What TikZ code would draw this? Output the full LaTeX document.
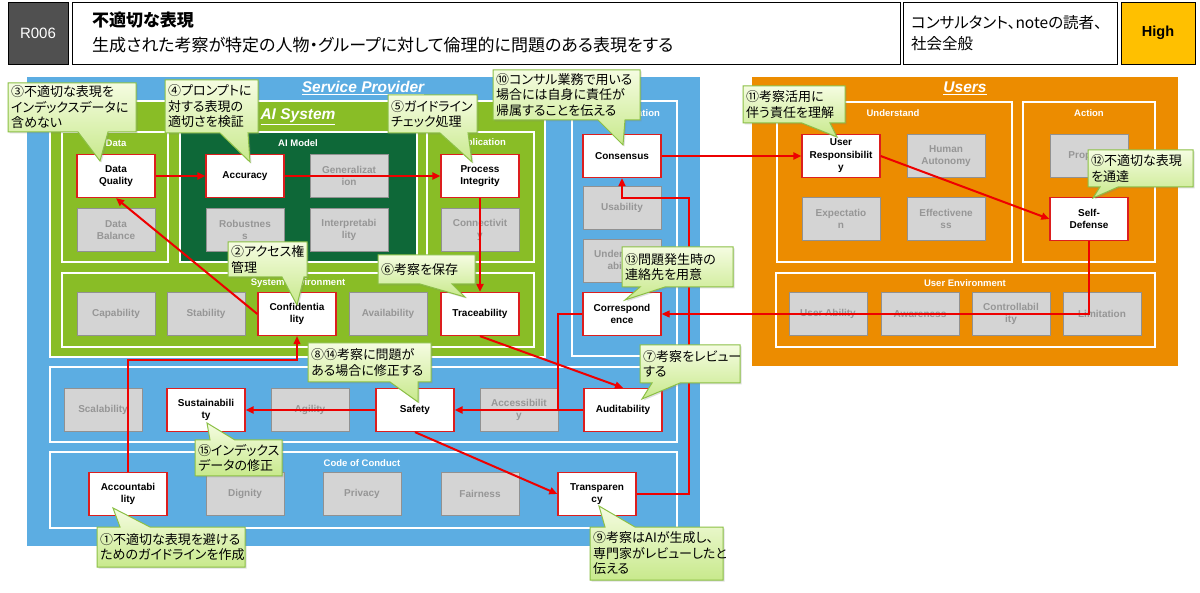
\documentclass[tikz,border=0pt]{standalone}
\usepackage{fontspec}
\setmainfont{Liberation Sans}
\newfontfamily\jp[RawFeature=+palt]{Noto Sans CJK JP}
\usetikzlibrary{arrows.meta,shadows}
\definecolor{spblue}{RGB}{92,173,226}
\definecolor{aigreen}{RGB}{137,189,38}
\definecolor{dkgreen}{RGB}{14,104,56}
\definecolor{usorange}{RGB}{236,140,0}
\definecolor{grayfill}{RGB}{212,212,212}
\definecolor{graydraw}{RGB}{145,145,145}
\definecolor{graytext}{RGB}{150,150,150}
\definecolor{nodered}{RGB}{220,30,30}
\definecolor{arrowred}{RGB}{238,0,0}
\definecolor{cotopc}{RGB}{245,252,225}
\definecolor{cobotc}{RGB}{200,233,140}
\definecolor{coline}{RGB}{140,192,70}
\definecolor{hdrgray}{RGB}{80,80,80}
\definecolor{highyellow}{RGB}{255,192,0}
\tikzset{
 basebox/.style={rectangle, minimum width=78pt, minimum height=43pt, align=center, inner sep=1pt, font=\bfseries\fontsize{10}{12.5}\selectfont},
 selbox/.style={basebox, fill=white, draw=nodered, line width=1.3pt, text=black},
 grbox/.style={basebox, fill=grayfill, draw=graydraw, line width=1pt, text=graytext},
 frm/.style={draw=white, line width=2.5pt},
 lbl/.style={text=white, font=\bfseries\fontsize{9.5}{11}\selectfont},
 bigttl/.style={text=white, font=\bfseries\itshape\fontsize{15.5}{18}\selectfont},
 ra/.style={draw=arrowred, line width=2pt, -{Triangle[length=8pt,width=7pt]}},
 rat/.style={draw=arrowred, line width=1.1pt, -{Triangle[length=8pt,width=7pt]}},
 rl/.style={draw=arrowred, line width=1.1pt},
 callout/.style={draw=coline, line width=1pt, top color=cotopc, bottom color=cobotc, drop shadow={opacity=0.25, shadow xshift=1.5pt, shadow yshift=-1.5pt}},
 cotext/.style={anchor=west, inner sep=0pt, align=left, font=\jp\fontsize{13}{15.5}\selectfont},
 hdr/.style={draw=black, line width=0.9pt},
}
\newcommand\calloutB[7]{\path[callout] (#1,#2) -- (#3,#2) -- (#3,#4) -- (#6,#4) -- #7 -- (#5,#4) -- (#1,#4) -- cycle;}
\newcommand\calloutT[7]{\path[callout] (#1,#2) -- (#5,#2) -- #7 -- (#6,#2) -- (#3,#2) -- (#3,#4) -- (#1,#4) -- cycle;}
\begin{document}
\begin{tikzpicture}[x=1pt,y=-1pt]
\useasboundingbox (0,0) rectangle (1200,593);
\fill[white] (0,0) rectangle (1200,593);
% header
\draw[hdr, fill=hdrgray] (8,2) rectangle (68,64);
\node[text=white, font=\fontsize{15}{18}\selectfont] (rid) at (38,33) {R006};
\draw[hdr] (72,2) rectangle (900,64);
\node[anchor=west, inner sep=0pt, font=\jp\bfseries\fontsize{17}{20}\selectfont] (ttl) at (92,20) {不適切な表現};
\node[anchor=west, inner sep=0pt, font=\jp\fontsize{17}{20}\selectfont] (sub) at (92,45) {生成された考察が特定の人物・グループに対して倫理的に問題のある表現をする};
\draw[hdr] (903,2) rectangle (1117,64);
\node[anchor=west, inner sep=0pt, align=left, font=\jp\fontsize{15.5}{21}\selectfont] (aud) at (911,33) {コンサルタント、noteの読者、\\社会全般};
\draw[hdr, fill=highyellow] (1121,2) rectangle (1195,64);
\node[font=\bfseries\fontsize{14.5}{17}\selectfont] (high) at (1158,33) {High};
% big regions
\fill[spblue] (27,77) rectangle (700,546);
\fill[usorange] (752,77) rectangle (1178,366);
\node[bigttl] (sp) at (363,88) {\underline{Service Provider}};
\node[bigttl] (us) at (965,88) {\underline{Users}};
% AI system
\draw[frm, fill=aigreen] (50,101) rectangle (545,357);
\node[bigttl] (ais) at (298,117) {\underline{AI System}};
\draw[frm] (62,132) rectangle (168,262);
\draw[frm, fill=dkgreen] (180,132) rectangle (417,262);
\draw[frm] (427,132) rectangle (534,262);
\draw[frm] (62,273) rectangle (534,347);
\draw[frm] (572,101) rectangle (677,356);
\draw[frm] (50,367) rectangle (677,442);
\draw[frm] (50,452) rectangle (677,528);
\draw[frm] (777,102) rectangle (1012,262);
\draw[frm] (1023,102) rectangle (1155,262);
\draw[frm] (776,273) rectangle (1155,347);
% labels
\node[lbl] (lData) at (116,143) {Data};
\node[lbl] (lModel) at (298,143) {AI Model};
\node[lbl] (lApp) at (480,143) {Application};
\node[lbl] (lSys) at (298,283) {System Environment};
\node[lbl] (lCom) at (624,113) {Communication};
\node[lbl] (lCoc) at (362,463) {Code of Conduct};
\node[lbl] (lUnd) at (893,113) {Understand};
\node[lbl] (lAct) at (1089,113) {Action};
\node[lbl] (lUenv) at (965,283) {User Environment};
% nodes AI system
\node[selbox] (dq) at (116,176) {Data\\Quality};
\node[grbox] (db) at (116,230) {Data\\Balance};
\node[selbox] (acc) at (245,176) {Accuracy};
\node[grbox] (gen) at (349,176) {Generalizat\\ion};
\node[grbox] (rob) at (245,230) {Robustnes\\s};
\node[grbox] (int) at (349,230) {Interpretabi\\lity};
\node[selbox] (pi) at (480,176) {Process\\Integrity};
\node[grbox] (con) at (480,230) {Connectivit\\y};
\node[grbox] (cap) at (116,314) {Capability};
\node[grbox] (sta) at (206,314) {Stability};
\node[selbox] (cf) at (297,314) {Confidentia\\lity};
\node[grbox] (ava) at (388,314) {Availability};
\node[selbox] (tr) at (480,314) {Traceability};
% communication
\node[selbox] (cs) at (622,156) {Consensus};
\node[grbox] (usa) at (622,208) {Usability};
\node[grbox] (und) at (622,261) {Understand\\ability};
\node[selbox] (corr) at (622,314) {Correspond\\ence};
% row 2
\node[grbox] (sca) at (103,410) {Scalability};
\node[selbox] (sus) at (206,410) {Sustainabili\\ty};
\node[grbox] (agi) at (310,410) {Agility};
\node[selbox] (saf) at (415,410) {Safety};
\node[grbox] (acs) at (519,410) {Accessibilit\\y};
\node[selbox] (aud) at (623,410) {Auditability};
% code of conduct
\node[selbox] (ac) at (128,494) {Accountabi\\lity};
\node[grbox] (dig) at (245,494) {Dignity};
\node[grbox] (pri) at (362,494) {Privacy};
\node[grbox] (fai) at (480,494) {Fairness};
\node[selbox] (tp) at (597,494) {Transparen\\cy};
% users
\node[selbox] (ur) at (841,156) {User\\Responsibilit\\y};
\node[grbox] (ha) at (946,156) {Human\\Autonomy};
\node[grbox] (ex) at (841,219) {Expectatio\\n};
\node[grbox] (ef) at (946,219) {Effectivene\\ss};
\node[grbox] (pr) at (1089,156) {Property};
\node[selbox] (sd) at (1089,219) {Self-\\Defense};
\node[grbox] (ua) at (828,314) {User Ability};
\node[grbox] (aw) at (920,314) {Awareness};
\node[grbox] (ct) at (1011,314) {Controllabil\\ity};
\node[grbox] (li) at (1102,314) {Limitation};
% connectors
\coordinate (t1) at (689,198);
\coordinate (k1) at (200,360);
\coordinate (j1) at (558,410);
\draw[ra] (dq.east) -- (acc.west);
\draw[ra] (acc.east) -- (pi.west);
\draw[ra] (pi.south) -- (tr.north);
\draw[ra] (tr.south) -- (aud.north);
\draw[ra] (aud.west) -- (saf.east);
\draw[ra] (saf.west) -- (sus.east);
\draw[ra] (saf.south) -- (tp.west);
\draw[ra, line width=1.6pt] (tp.east) -| (t1) -| (cs.south);
\draw[ra] (cs.east) -- (ur.west);
\draw[ra] (ur.east) -- (sd.west);
\draw[rat] (sd.south) |- (corr.east);
\draw[rl] (corr.west) -| (j1);
\draw[rat] (ac.north) |- (k1) -| (cf.south);
\draw[ra] (cf.west) -- (dq.south);
% callouts
\calloutB{8}{83}{136}{132}{78}{108}{(100,161)}
\node[cotext] (c3) at (11,107.5) {③不適切な表現を\\インデックスデータに\\含めない};
\calloutB{165}{80}{258}{133}{220}{248}{(250,162)}
\node[cotext] (c4) at (168,106.5) {④プロンプトに\\対する表現の\\適切さを検証};
\calloutB{388}{95}{477}{133}{440}{468}{(472,162)}
\node[cotext] (c5) at (391,114) {⑤ガイドライン\\チェック処理};
\calloutB{493}{70}{640}{120}{598}{625}{(623,145)}
\node[cotext] (c10) at (496,95) {⑩コンサル業務で用いる\\場合には自身に責任が\\帰属することを伝える};
\calloutB{743}{86}{845}{123}{802}{830}{(837,137)}
\node[cotext] (c11) at (746,104.5) {⑪考察活用に\\伴う責任を理解};
\calloutB{1088}{150}{1193}{187}{1100}{1118}{(1093,198)}
\node[cotext] (c12) at (1091,168.5) {⑫不適切な表現\\を通達};
\calloutB{228}{242}{307}{277}{282}{304}{(297,305)}
\node[cotext] (c2) at (231,259.5) {②アクセス権\\管理};
\calloutB{378}{255}{475}{284}{420}{452}{(465,297)}
\node[cotext] (c6) at (381,269.5) {⑥考察を保存};
\calloutB{622}{247}{733}{287}{640}{665}{(625,300)}
\node[cotext] (c13) at (625,267) {⑬問題発生時の\\連絡先を用意};
\calloutB{308}{343}{431}{382}{390}{418}{(418,402)}
\node[cotext] (c8) at (311,362.5) {⑧⑭考察に問題が\\ある場合に修正する};
\calloutB{640}{345}{740}{383}{652}{680}{(642,399)}
\node[cotext] (c7) at (643,364) {⑦考察をレビュー\\する};
\calloutT{195}{440}{282}{476}{210}{235}{(207,423)}
\node[cotext] (c15) at (198,458) {⑮インデックス\\データの修正};
\calloutT{97}{527}{245}{567}{120}{150}{(113,508)}
\node[cotext] (c1) at (100,547) {①不適切な表現を避ける\\ためのガイドラインを作成};
\calloutT{590}{527}{723}{580}{605}{635}{(599,506)}
\node[cotext] (c9) at (593,553.5) {⑨考察はAIが生成し、\\専門家がレビューしたと\\伝える};
\end{tikzpicture}
\end{document}
